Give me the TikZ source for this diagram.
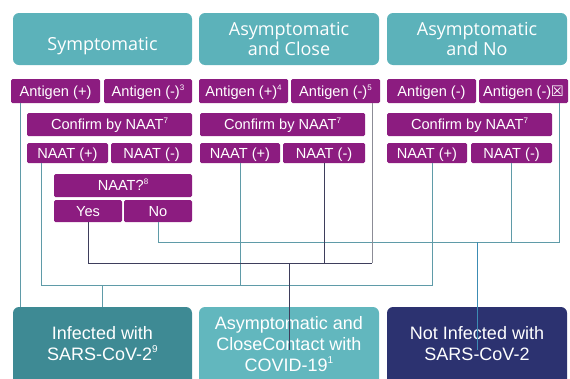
\documentclass[tikz,border=0pt]{standalone}
\usepackage{fontspec}
\setmainfont{Liberation Sans}
\newfontfamily\hdrfont{Open Sans}
\newfontfamily\symfont{DejaVu Sans}
\usetikzlibrary{calc}
\definecolor{hdrteal}{RGB}{92,178,186}
\definecolor{purp}{RGB}{140,28,128}
\definecolor{infteal}{RGB}{62,138,148}
\definecolor{midteal}{RGB}{98,183,190}
\definecolor{navy}{RGB}{44,50,112}
\definecolor{lteal}{RGB}{95,155,168}
\definecolor{ldark}{RGB}{62,62,92}
\definecolor{lgray}{RGB}{140,140,150}
\definecolor{lblue}{RGB}{60,140,180}
\newcommand\mybox[7]{%
  \pgfmathsetmacro\mbcx{(#3+#5)/2}\pgfmathsetmacro\mbcy{(#4+#6)/2}%
  \pgfmathsetmacro\mbw{#5-#3}\pgfmathsetmacro\mbh{#6-#4}%
  \node[#1,minimum width=\mbw pt,minimum height=\mbh pt] (#2) at (\mbcx,\mbcy) {#7};}
\newcommand\sps[1]{\raisebox{0.42em}{\fontsize{8}{8}\selectfont #1}}
\newcommand\spb[1]{\raisebox{0.45em}{\fontsize{10}{10}\selectfont #1}}
\begin{document}
\begin{tikzpicture}[x=1pt,y=-1pt,
  hdr/.style={fill=hdrteal, rounded corners=6pt, inner sep=0pt, outer sep=0pt, text=white,
    font=\hdrfont\fontsize{18}{20}\selectfont, align=center},
  pb/.style={fill=purp, rounded corners=1.5pt, inner sep=0pt, outer sep=0pt, text=white,
    font=\fontsize{14.6}{16}\selectfont, text height=11pt, text depth=0.5pt},
  btm/.style={rounded corners=6pt, inner sep=0pt, outer sep=0pt},
  btxt/.style={text=white, font=\fontsize{18}{21}\selectfont, align=center, inner sep=0pt},
  tl/.style={draw=lteal, line width=0.9pt},
  dl/.style={draw=ldark, line width=0.9pt},
  gl/.style={draw=lgray, line width=0.9pt},
  bl/.style={draw=lblue, line width=0.9pt}]
\useasboundingbox (0,0) rectangle (570,378);
\clip (0,0) rectangle (570,378);
% headers
\mybox{hdr,text height=22pt,text depth=0pt}{h1}{13}{13}{192}{65}{Symptomatic}
\mybox{hdr}{h2}{199}{13}{379}{65}{Asymptomatic\\and Close}
\mybox{hdr}{h3}{387}{13}{567}{65}{Asymptomatic\\and No}
% antigen row
\mybox{pb}{sa1}{11}{79}{100}{103}{Antigen (+)}
\mybox{pb}{sa2}{104}{79}{192}{103}{Antigen (-)\sps{3}}
\mybox{pb}{ca1}{199}{79}{288}{103}{Antigen (+)\sps{4}}
\mybox{pb}{ca2}{291}{79}{380}{103}{Antigen (-)\sps{5}}
\mybox{pb}{na1}{387}{79}{476}{103}{Antigen (-)}
\mybox{pb}{na2}{479}{79}{568}{103}{Antigen (-)\kern-0.5pt{\symfont\fontsize{14.5}{14}\selectfont ☒}}
% confirm row
\mybox{pb}{sc}{27}{113}{192}{136}{Confirm by NAAT\sps{7}}
\mybox{pb}{cc}{200}{113}{365}{136}{Confirm by NAAT\sps{7}}
\mybox{pb}{nc}{387}{113}{552}{136}{Confirm by NAAT\sps{7}}
% naat row
\mybox{pb}{sn1}{27}{143}{108}{163}{NAAT (+)}
\mybox{pb}{sn2}{111}{143}{192}{163}{NAAT (-)}
\mybox{pb}{cn1}{200}{143}{280}{163}{NAAT (+)}
\mybox{pb}{cn2}{283}{143}{365}{163}{NAAT (-)}
\mybox{pb}{nn1}{387}{143}{467}{163}{NAAT (+)}
\mybox{pb}{nn2}{471}{143}{552}{163}{NAAT (-)}
% naat?
\mybox{pb}{nq}{54}{174}{192}{197}{NAAT?\sps{8}}
\mybox{pb}{yes}{54}{200}{122}{222}{Yes}
\mybox{pb}{no}{124}{200}{192}{222}{No}
% bottom boxes
\mybox{btm,fill=infteal}{inf}{13}{307}{192}{400}{}
\mybox{btm,fill=midteal}{cls}{199}{307}{379}{400}{}
\mybox{btm,fill=navy}{nav}{387}{307}{567}{400}{}
\node[btxt] (inft) at ($(inf.north)+(0,37)$) {Infected with\\SARS-CoV-2\spb{9}};
\node[btxt] (clst) at ($(cls.north)+(0,37)$) {Asymptomatic and\\CloseContact with\\COVID-19\spb{1}};
\node[btxt] (navt) at ($(nav.north)+(0,37)$) {Not Infected with\\SARS-CoV-2};
% connector anchors
\coordinate (y242) at (0,242);
\coordinate (y263) at (0,263);
\coordinate (y285) at (0,285);
\coordinate (p1) at ($(sa1.south west)+(9,0)$);
\coordinate (p2) at ($(sn1.south west)+(14,0)$);
\coordinate (p3) at (cn1.south);
\coordinate (p4) at ($(nn1.south west)+(45,0)$);
\coordinate (p5) at (yes.south);
\coordinate (p6) at ($(ca2.south east)+(-8,0)$);
\coordinate (p7) at (cn2.south);
\coordinate (p8) at (no.south);
\coordinate (p9) at (nn2.south);
\coordinate (p10) at ($(na2.south east)+(-9,0)$);
% connectors
\draw[tl] (p1) -- (p1 |- inf.north);
\draw[tl] (p2) -- (p2 |- y285) -- (p4 |- y285) -- (p4);
\draw[tl] (p3) -- (p3 |- y285);
\draw[tl] (inf.north |- y285) -- (inf.north);
\draw[tl] (p8) -- (p8 |- y242) -- (p10 |- y242) -- (p10);
\draw[tl] (p9) -- (p9 |- y242);
\draw[dl] (p5) -- (p5 |- y263) -- (p6 |- y263);
\draw[gl] (p6 |- y263) -- (p6);
\draw[dl] (p7) -- (p7 |- y263);
\draw[dl] (cls.north |- y263) -- ($(cls.north)+(0,43)$);
\draw[bl] (nav.north |- y242) -- ($(nav.north)+(0,43)$);
\end{tikzpicture}
\end{document}
